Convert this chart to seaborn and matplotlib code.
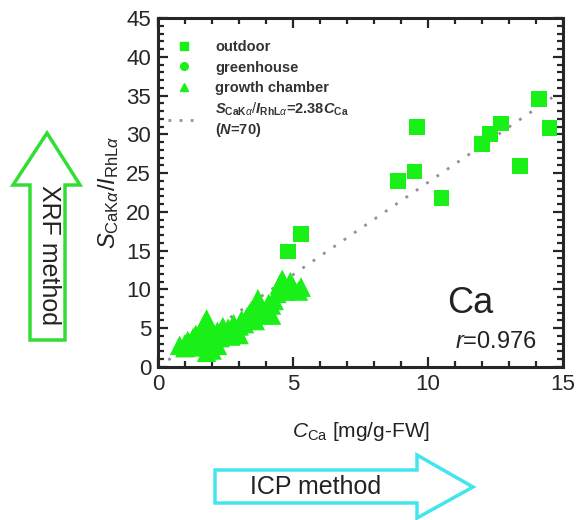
import numpy as np
import pandas as pd
import matplotlib
matplotlib.use("Agg")
import matplotlib.pyplot as plt
import seaborn as sns
from matplotlib.lines import Line2D
from matplotlib.patches import Polygon
from matplotlib.ticker import MultipleLocator

# ---- data ----
outdoor_x = [14.1, 14.5, 12.7, 12.3, 12.0, 13.4, 9.6, 9.5, 8.9, 10.5, 5.3, 4.8]
outdoor_y = [34.6, 30.8, 31.4, 30.0, 28.8, 25.9, 30.9, 25.2, 24.0, 21.8, 17.2, 14.9]

greenhouse_x = [1.8, 1.5, 2.2, 1.2, 2.6]
greenhouse_y = [2.3, 3.0, 3.6, 3.3, 4.2]

chamber_x = [0.8, 1.0, 1.1, 1.2, 1.3, 1.4, 1.5, 1.6, 1.7, 1.8, 1.9, 2.0, 2.0, 1.8,
             2.1, 2.2, 2.3, 2.5, 2.6, 2.7, 2.8, 2.9, 3.0, 3.1, 3.2, 3.3, 3.4, 3.5,
             3.6, 3.7, 3.8, 3.9, 4.0, 4.1, 4.2, 4.3, 4.4, 4.5, 4.6, 4.7, 4.8, 5.0,
             5.2, 5.3, 4.9, 3.0, 2.4, 1.5, 1.0, 2.2, 3.6, 4.2, 2.0]
chamber_y = [2.8, 3.0, 3.4, 2.9, 3.8, 4.2, 3.5, 4.8, 5.5, 6.2, 5.0, 4.2, 2.2, 1.9,
             3.3, 4.6, 3.8, 4.4, 5.0, 4.0, 5.6, 4.8, 5.3, 6.1, 5.6, 6.5, 7.0, 6.3,
             7.5, 8.8, 7.8, 6.8, 7.3, 8.2, 6.7, 8.6, 9.5, 10.6, 11.3, 9.8, 10.0, 10.3,
             9.8, 10.3, 11.0, 4.2, 5.2, 2.6, 2.5, 2.8, 6.0, 8.0, 3.0]

slope = 2.38
fit_x = [0.0, 14.6]
groups = ["outdoor", "greenhouse", "growth chamber"]

df = pd.DataFrame({
    "x": outdoor_x + greenhouse_x + chamber_x,
    "y": outdoor_y + greenhouse_y + chamber_y,
    "group": [groups[0]] * len(outdoor_x) + [groups[1]] * len(greenhouse_x)
             + [groups[2]] * len(chamber_x),
})

# ---- style ----
sns.set_style("ticks")
plt.rcParams["font.family"] = ["Liberation Sans", "DejaVu Sans"]
plt.rcParams["mathtext.fontset"] = "custom"
plt.rcParams["mathtext.rm"] = "Liberation Sans"
plt.rcParams["mathtext.it"] = "Liberation Sans:italic"
plt.rcParams["mathtext.bf"] = "Liberation Sans:bold"
try:
    plt.rcParams["mathtext.bfit"] = "Liberation Sans:bold:italic"
    bfit = r"\mathbfit"
except KeyError:
    bfit = r"\mathit"

green = "#18f018"
W, H = 585, 520
fig = plt.figure(figsize=(W / 100, H / 100), dpi=100)
ax = fig.add_axes([158 / W, 1 - 367 / H, 405 / W, 349 / H])

markers = {"outdoor": "s", "greenhouse": "o", "growth chamber": "^"}
sizes = {"outdoor": 130, "greenhouse": 110, "growth chamber": 200}
sns.scatterplot(data=df, x="x", y="y", style="group", markers=markers,
                size="group", sizes=sizes,
                color=green, linewidth=0, ax=ax, legend=False, zorder=3)

fy = [slope * v for v in fit_x]
ax.plot(fit_x, fy, linestyle=(0, (1, 3.5)), color="#9a8aa0", lw=2, zorder=2)

ax.set_xlim(0, 15)
ax.set_ylim(0, 45)
ax.xaxis.set_major_locator(MultipleLocator(5))
ax.xaxis.set_minor_locator(MultipleLocator(1))
ax.yaxis.set_major_locator(MultipleLocator(5))
ax.yaxis.set_minor_locator(MultipleLocator(1))
ax.tick_params(which="both", direction="in", top=True, right=True, width=1.6)
ax.tick_params(which="major", length=7, labelsize=16, pad=5)
ax.tick_params(which="minor", length=4)
for sp in ax.spines.values():
    sp.set_linewidth(2.2)

ax.set_xlabel(r"$C_{\mathrm{Ca}}$ [mg/g-FW]", fontsize=15, color="#222222", labelpad=18)
ax.set_ylabel(r"$S_{\mathrm{CaK}\alpha}/I_{\mathrm{RhL}\alpha}$", fontsize=17, color="#222222", labelpad=4)

ax.text(11.55, 8.2, "Ca", fontsize=26, ha="center", va="center", color="#222222")
ax.text(12.5, 3.2, r"$r$=0.976", fontsize=17, ha="center", va="center", color="#222222")

handles = [
    Line2D([], [], marker="s", color=green, linestyle="none", markersize=5.5),
    Line2D([], [], marker="o", color=green, linestyle="none", markersize=5.5),
    Line2D([], [], marker="^", color=green, linestyle="none", markersize=5.5),
    Line2D([], [], linestyle=(0, (1, 3)), color="#9a8aa0", lw=2),
]
fit_label = ("$" + bfit + r"{S}_{\mathbf{CaK}\alpha}/" + bfit + r"{I}_{\mathbf{RhL}\alpha}$"
             + "=2.38$" + bfit + r"{C}_{\mathbf{Ca}}$" + "\n($" + bfit + "{N}$=70)")
labels = ["outdoor", "greenhouse", "growth chamber", fit_label]
leg = ax.legend(handles, labels, loc="upper left", bbox_to_anchor=(0.0, 0.965),
                frameon=False, handlelength=2.2, labelspacing=0.42,
                borderaxespad=0.3, handletextpad=1.0,
                prop={"weight": "bold", "size": 10.5})
for t in leg.get_texts():
    t.set_color("#333333")

# ---- overlay for method arrows (pixel coordinates) ----
ov = fig.add_axes([0, 0, 1, 1], zorder=-1)
ov.set_xlim(0, W)
ov.set_ylim(H, 0)
ov.axis("off")
up_arrow = [(47, 133), (13, 185), (30, 185), (30, 340), (65, 340), (65, 185), (80, 185)]
ov.add_patch(Polygon(up_arrow, closed=True, facecolor="white", edgecolor="#33dd33", lw=2.5))
ov.text(49, 255, "XRF method", rotation=270, fontsize=18, ha="center", va="center", color="#222222")
right_arrow = [(215, 470), (417, 470), (417, 455), (473, 487), (417, 518), (417, 503), (215, 503)]
ov.add_patch(Polygon(right_arrow, closed=True, facecolor="white", edgecolor="#44e4ee", lw=2.5))
ov.text(316, 487, "ICP method", fontsize=18, ha="center", va="center", color="#222222")

fig.savefig("out.png", dpi=100)
